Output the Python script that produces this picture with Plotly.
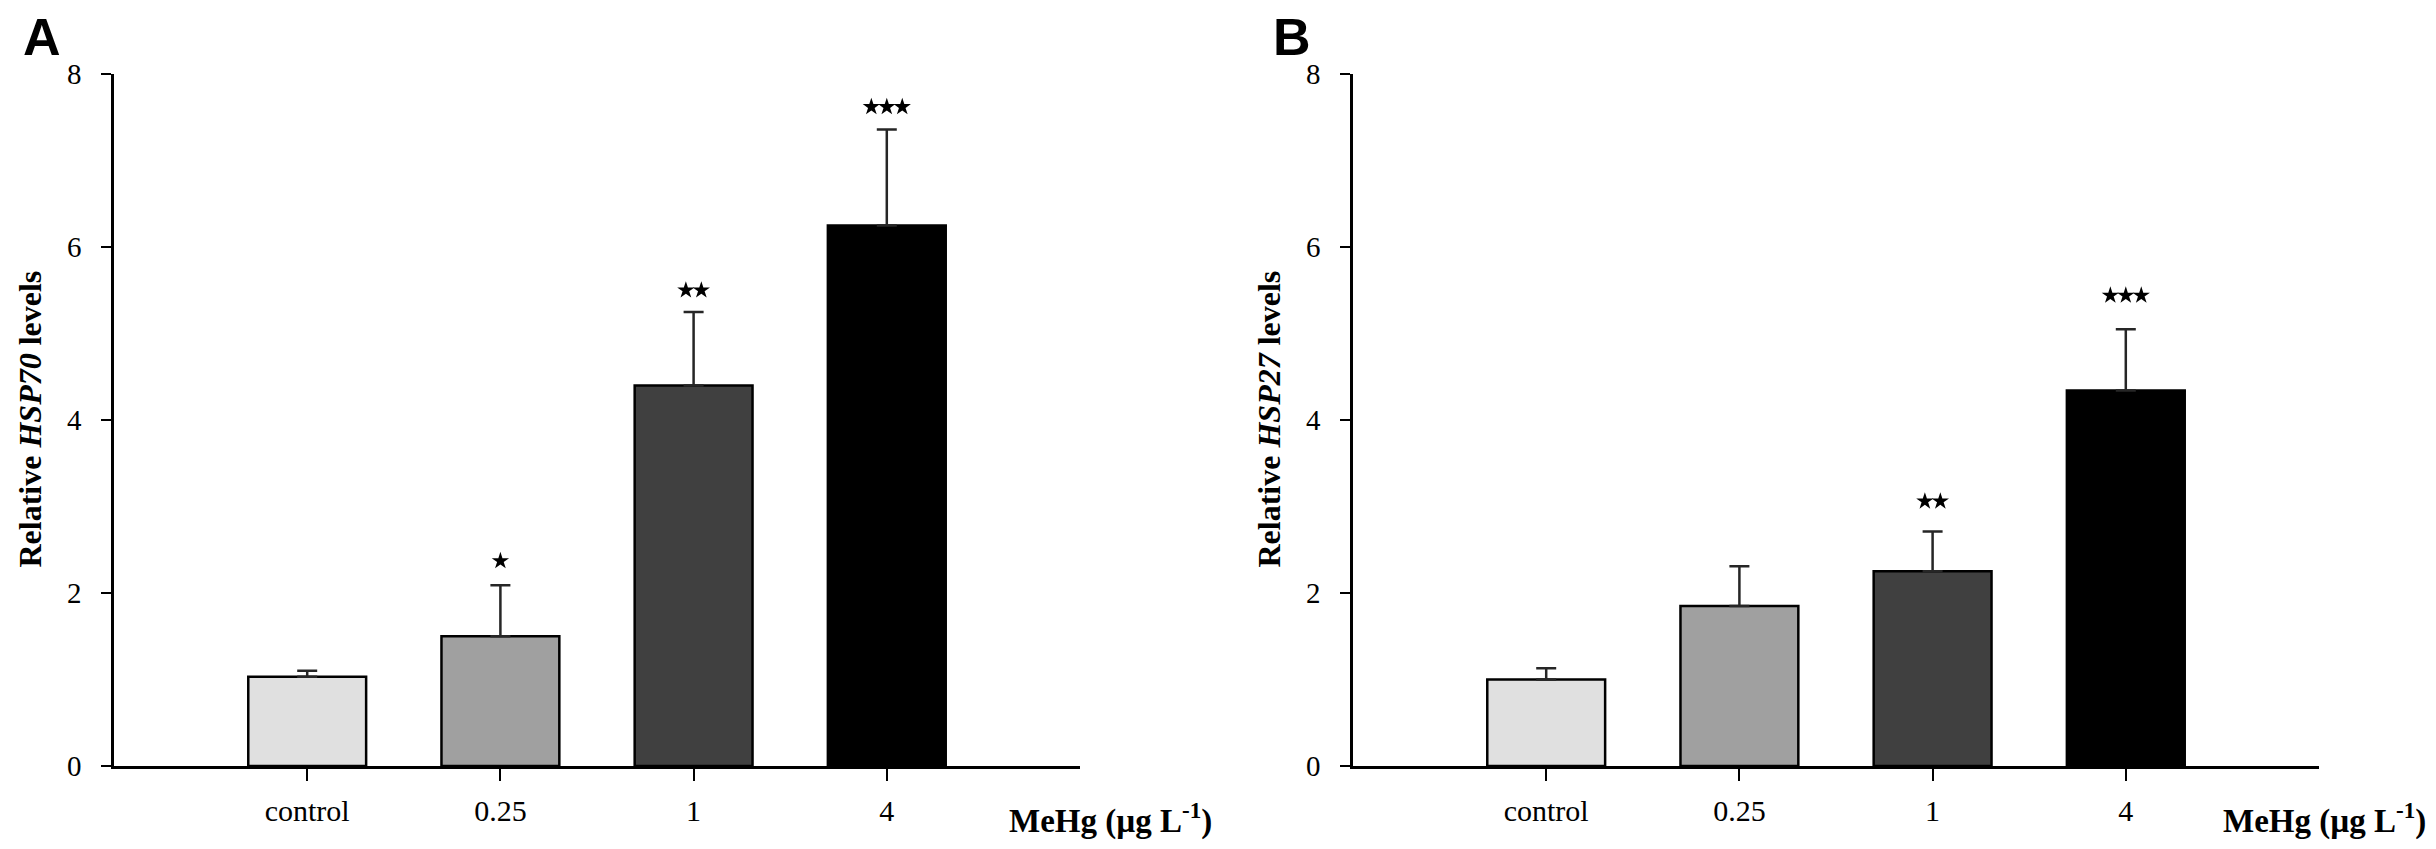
"""
Relative HSP70 / HSP27 levels after MeHg exposure, two bar panels
"""
import plotly.graph_objects as go

#* Data
categories = ["control", "0.25", "1", "4"]
bar_colors = ["#e0e0e0", "#a0a0a0", "#404040", "#000000"]

hsp70_mean = [1.03, 1.50, 4.40, 6.25]
hsp70_err = [0.07, 0.59, 0.85, 1.11]
hsp70_stars = [0, 1, 2, 3]
hsp70_star_y = [None, 2.37, 5.50, 7.62]

hsp27_mean = [1.00, 1.85, 2.25, 4.34]
hsp27_err = [0.13, 0.46, 0.46, 0.71]
hsp27_stars = [0, 0, 2, 3]
hsp27_star_y = [None, None, 3.06, 5.44]

y_ticks = [0, 2, 4, 6, 8]

W, H = 2436, 849
SERIF = "Liberation Serif"
STAR_GAP = 0.08  # spacing between stars in category units


def py(px):
    #* pixel row (from top) -> paper fraction
    return 1 - px / H


fig = go.Figure()

panels = [
    dict(x="x", y="y", mean=hsp70_mean, err=hsp70_err, stars=hsp70_stars, sy=hsp70_star_y),
    dict(x="x2", y="y2", mean=hsp27_mean, err=hsp27_err, stars=hsp27_stars, sy=hsp27_star_y),
]

for p in panels:
    xs = list(range(len(categories)))
    fig.add_trace(go.Bar(
        x=xs,
        y=p["mean"],
        width=0.61,
        xaxis=p["x"],
        yaxis=p["y"],
        marker=dict(color=bar_colors, line=dict(color="black", width=2.5)),
        error_y=dict(
            type="data",
            symmetric=False,
            array=p["err"],
            arrayminus=[0] * len(xs),
            color="#262626",
            thickness=2.5,
            width=10,
        ),
        showlegend=False,
        hoverinfo="skip",
    ))

    #* Significance stars
    star_x, star_y = [], []
    for i, n in enumerate(p["stars"]):
        for j in range(n):
            star_x.append(i + (j - (n - 1) / 2) * STAR_GAP)
            star_y.append(p["sy"][i])
    fig.add_trace(go.Scatter(
        x=star_x,
        y=star_y,
        mode="markers",
        marker=dict(symbol="star", size=13, color="black", line=dict(width=0)),
        xaxis=p["x"],
        yaxis=p["y"],
        showlegend=False,
        hoverinfo="skip",
    ))

#* Axes
x_common = dict(
    range=[-1, 4],
    tickmode="array",
    tickvals=list(range(len(categories))),
    ticktext=categories,
    ticks="outside",
    ticklen=12,
    tickwidth=2,
    tickcolor="black",
    showline=True,
    linecolor="black",
    linewidth=2.5,
    showgrid=False,
    zeroline=False,
    tickfont=dict(family=SERIF, size=30, color="black"),
    ticklabelstandoff=4,
)
y_common = dict(
    range=[0, 8],
    tickmode="array",
    tickvals=y_ticks,
    ticks="outside",
    ticklen=10,
    tickwidth=2,
    tickcolor="black",
    showline=True,
    linecolor="black",
    linewidth=2.5,
    showgrid=False,
    zeroline=False,
    tickfont=dict(family=SERIF, size=29, color="black"),
    ticklabelstandoff=14,
)

y_dom = [py(771), py(52)]

fig.update_layout(
    width=W,
    height=H,
    margin=dict(l=0, r=0, t=0, b=0),
    paper_bgcolor="white",
    plot_bgcolor="white",
    xaxis=dict(domain=[106 / W, 1072 / W], anchor="y", **x_common),
    yaxis=dict(domain=y_dom, anchor="x", **y_common),
    xaxis2=dict(domain=[1345 / W, 2311 / W], anchor="y2", **x_common),
    yaxis2=dict(domain=y_dom, anchor="x2", **y_common),
)

#* Texts: panel letters, axis titles
annotations = [
    dict(text="<b>A</b>", x=13 / W, y=py(14), xanchor="left", yanchor="middle",
         font=dict(family="Liberation Sans", size=52, color="black")),
    dict(text="<b>B</b>", x=1263 / W, y=py(14), xanchor="left", yanchor="middle",
         font=dict(family="Liberation Sans", size=52, color="black")),
    dict(text="<b>Relative <i>HSP70</i> levels</b>", x=22 / W, y=py(411), textangle=-90,
         xanchor="center", yanchor="middle", font=dict(family=SERIF, size=32, color="black")),
    dict(text="<b>Relative <i>HSP27</i> levels</b>", x=1261 / W, y=py(411), textangle=-90,
         xanchor="center", yanchor="middle", font=dict(family=SERIF, size=32, color="black")),
    dict(text="<b>MeHg (µg L<sup>-1</sup>)</b>", x=1206 / W, y=py(826),
         xanchor="right", yanchor="middle", font=dict(family=SERIF, size=33, color="black")),
    dict(text="<b>MeHg (µg L<sup>-1</sup>)</b>", x=2420 / W, y=py(826),
         xanchor="right", yanchor="middle", font=dict(family=SERIF, size=33, color="black")),
]
for a in annotations:
    fig.add_annotation(xref="paper", yref="paper", showarrow=False, **a)

fig.write_html("out.html")
